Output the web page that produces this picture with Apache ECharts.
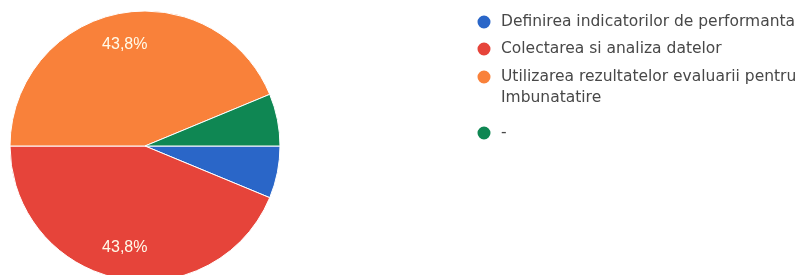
<!DOCTYPE html>
<html>
<head>
<meta charset="utf-8">
<script src="https://cdn.jsdelivr.net/npm/echarts@6/dist/echarts.min.js"></script>
<style>
  html, body { margin: 0; padding: 0; background: #fff; }
  #chart { width: 799px; height: 275px; }
</style>
</head>
<body>
<div id="chart"></div>
<script>
// categories and values (responses out of 16)
const categories = [
  'Definirea indicatorilor de performanta',
  'Colectarea si analiza datelor',
  'Utilizarea rezultatelor evaluarii pentru\nImbunatatire',
  '-'
];
const values = [1, 7, 7, 1];
const colors = ['#2a66c8', '#e6443a', '#f9813a', '#0f8753'];

const pieData = categories.map((name, i) => ({
  name: name,
  value: values[i],
  itemStyle: { color: colors[i] }
}));

const chart = echarts.init(document.getElementById('chart'));

// shared legend style
const legendBase = {
  orient: 'vertical',
  left: 475.5,
  padding: 0,
  itemWidth: 15,
  itemHeight: 15,
  itemGap: 6,
  icon: 'circle',
  selectedMode: false,
  textStyle: {
    fontFamily: 'DejaVu Sans',
    fontSize: 15.5,
    lineHeight: 21,
    color: '#484848',
    padding: [0, 0, 0, 4.5]
  }
};

chart.setOption({
  animation: false,
  // three legend blocks so the two-line item keeps its icon on the first line
  legend: [
    Object.assign({}, legendBase, {
      top: 11.5,
      data: [categories[0], categories[1]]
    }),
    Object.assign({}, legendBase, {
      top: 45.5,
      data: [categories[2]],
      // empty first line pushes the wrapped text down so line 1 sits by the icon
      formatter: name => ' \n' + name
    }),
    Object.assign({}, legendBase, {
      top: 122.5,
      data: [categories[3]]
    })
  ],
  series: [
    {
      type: 'pie',
      center: [145, 146],
      radius: [0, 135],
      startAngle: 0,
      clockwise: true,
      data: pieData,
      label: { show: false },
      labelLine: { show: false },
      itemStyle: { borderColor: '#fff', borderWidth: 1 },
      emphasis: { disabled: true }
    },
    {
      // transparent ring that only carries the percentage labels
      type: 'pie',
      silent: true,
      center: [145, 146],
      radius: [66, 135],
      startAngle: 0,
      clockwise: true,
      data: pieData.map(d => ({ name: d.name, value: d.value })),
      itemStyle: { color: 'rgba(0,0,0,0)' },
      label: {
        show: true,
        position: 'inside',
        fontFamily: 'Liberation Sans',
        fontSize: 16,
        color: '#fffbea',
        formatter: p => p.percent < 10 ? '' : p.percent.toFixed(1).replace('.', ',') + '%'
      },
      labelLine: { show: false },
      emphasis: { disabled: true }
    }
  ]
});
</script>
</body>
</html>
